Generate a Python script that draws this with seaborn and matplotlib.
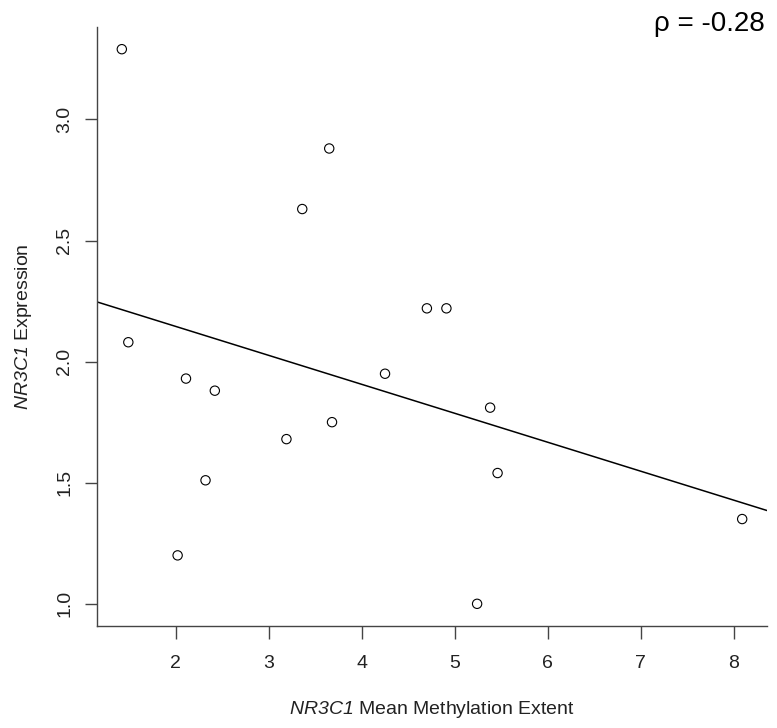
import matplotlib
matplotlib.use("Agg")
import matplotlib.pyplot as plt
import seaborn as sns
import pandas as pd

# Data
methylation = [1.42, 1.49, 2.11, 2.42, 2.32, 2.02, 3.19, 3.36, 3.65, 3.68,
               4.25, 4.70, 4.91, 5.38, 5.46, 5.24, 8.09]
expression = [3.29, 2.08, 1.93, 1.88, 1.51, 1.20, 1.68, 2.63, 2.88, 1.75,
              1.95, 2.22, 2.22, 1.81, 1.54, 1.00, 1.35]
x_ticks = [2, 3, 4, 5, 6, 7, 8]
y_ticks = [1.0, 1.5, 2.0, 2.5, 3.0]
rho_label = "\u03c1 = -0.28"

df = pd.DataFrame({"methylation": methylation, "expression": expression})

sns.set_style("ticks")
plt.rcParams["font.family"] = ["Liberation Sans", "DejaVu Sans"]
# math "rm" used only for the italic gene symbol (keeps digits italic too)
plt.rcParams["mathtext.fontset"] = "custom"
plt.rcParams["mathtext.rm"] = "Liberation Sans:italic"
plt.rcParams["mathtext.it"] = "Liberation Sans:italic"
plt.rcParams["mathtext.bf"] = "Liberation Sans:bold"

fig = plt.figure(figsize=(7.77, 7.28), dpi=100)
ax = fig.add_axes([97 / 777, 1 - 626 / 728, (767 - 97) / 777, (626 - 27) / 728])

# R-style 4% axis expansion
xmin, xmax = min(methylation), max(methylation)
ymin, ymax = min(expression), max(expression)
dx = (xmax - xmin) * 0.04
dy = (ymax - ymin) * 0.04
ax.set_xlim(xmin - dx, xmax + dx)
ax.set_ylim(ymin - dy, ymax + dy)

sns.scatterplot(data=df, x="methylation", y="expression", ax=ax,
                marker="o", s=45, facecolors="none", edgecolor="black",
                linewidth=0.8, zorder=3)
sns.regplot(data=df, x="methylation", y="expression", ax=ax, scatter=False,
            ci=None, truncate=False, color="black", line_kws={"linewidth": 1.1})
ax.set_xlim(xmin - dx, xmax + dx)
ax.set_ylim(ymin - dy, ymax + dy)

ax.set_xticks(x_ticks)
ax.set_xticklabels([str(v) for v in x_ticks])
ax.set_yticks(y_ticks)
ax.set_yticklabels([f"{v:.1f}" for v in y_ticks], rotation=90, va="center")

for side in ["top", "right"]:
    ax.spines[side].set_visible(False)
for side in ["left", "bottom"]:
    ax.spines[side].set_color("#444444")
    ax.spines[side].set_linewidth(1.0)

ax.tick_params(axis="both", direction="out", length=9, width=1.0,
               color="#444444", labelsize=14, labelcolor="#222222")
ax.tick_params(axis="x", pad=12)
ax.tick_params(axis="y", pad=8)

ax.set_xlabel("$\\mathrm{NR3C1}$ Mean Methylation Extent", fontsize=14,
              labelpad=19, color="#222222")
ax.set_ylabel("$\\mathrm{NR3C1}$ Expression", fontsize=14, labelpad=16,
              color="#222222")

fig.text(765 / 777, 1 - 24 / 728, rho_label, ha="right", va="center",
         fontsize=20, color="black")

fig.savefig("out.png", dpi=100, facecolor="white")
